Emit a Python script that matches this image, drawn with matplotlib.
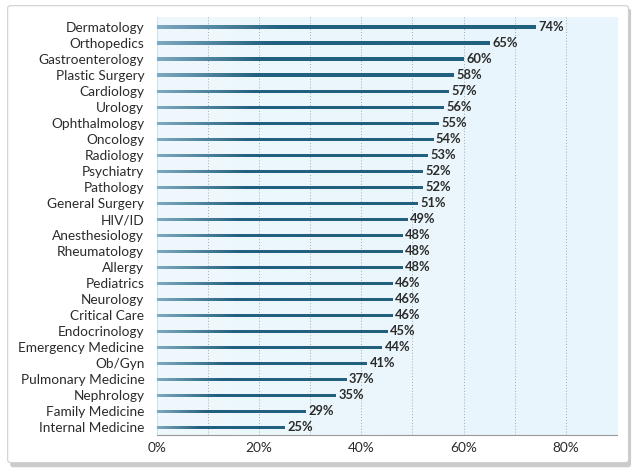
import numpy as np
import matplotlib
matplotlib.use('Agg')
import matplotlib.pyplot as plt
from matplotlib.patches import FancyBboxPatch

specialties = [
    'Dermatology', 'Orthopedics', 'Gastroenterology', 'Plastic Surgery', 'Cardiology',
    'Urology', 'Ophthalmology', 'Oncology', 'Radiology', 'Psychiatry', 'Pathology',
    'General Surgery', 'HIV/ID', 'Anesthesiology', 'Rheumatology', 'Allergy',
    'Pediatrics', 'Neurology', 'Critical Care', 'Endocrinology', 'Emergency Medicine',
    'Ob/Gyn', 'Pulmonary Medicine', 'Nephrology', 'Family Medicine', 'Internal Medicine',
]
percent = [74, 65, 60, 58, 57, 56, 55, 54, 53, 52, 52, 51, 49, 48, 48, 48,
           46, 46, 46, 45, 44, 41, 37, 35, 29, 25]
tick_values = [0, 20, 40, 60, 80]
tick_labels = ['0%', '20%', '40%', '60%', '80%']
grid_values = [10, 20, 30, 40, 50, 60, 70, 80]

BAR_COLOR = '#22607f'
TEXT_COLOR = '#2b2b2b'

plt.rcParams['font.family'] = ['Lato', 'DejaVu Sans']

fig = plt.figure(figsize=(6.4, 4.72), dpi=100)
fig.patch.set_facecolor('white')

# card with soft shadow, kept behind the axes
shadow = FancyBboxPatch((0.016, 0.010), 0.970, 0.972, boxstyle='round,pad=0,rounding_size=0.005',
                        transform=fig.transFigure, facecolor='#b5b5b5', edgecolor='none',
                        alpha=0.7, zorder=-2)
card = FancyBboxPatch((0.012, 0.020), 0.970, 0.968, boxstyle='round,pad=0,rounding_size=0.005',
                      transform=fig.transFigure, facecolor='white', edgecolor='#d0d0d0',
                      linewidth=0.8, zorder=-1)
fig.patches.extend([shadow, card])

ax = fig.add_axes([0.245, 0.078, 0.719, 0.886])
ax.set_facecolor('none')
ax.set_zorder(1)

# light blue background gradient
bg = np.linspace(0, 1, 256).reshape(1, -1)
ax.imshow(bg, extent=[0, 90, 25.5, -0.625], aspect='auto', zorder=0,
          cmap=matplotlib.colors.LinearSegmentedColormap.from_list('bg', ['#eef8fd', '#e8f5fc']))

y = np.arange(len(specialties))
bars = ax.barh(y, percent, height=0.19, color=BAR_COLOR, zorder=3)

# fade the bars slightly at their left end
fade = matplotlib.colors.LinearSegmentedColormap.from_list('fade', ['#7fa9c0', BAR_COLOR, BAR_COLOR, BAR_COLOR])
for bar in bars:
    x0, y0 = bar.get_x(), bar.get_y()
    w, h = bar.get_width(), bar.get_height()
    im = ax.imshow(np.linspace(0, 1, 256).reshape(1, -1), extent=[x0, x0 + w, y0 + h, y0],
                   aspect='auto', cmap=fade, zorder=4)
    im.set_clip_path(bar)

for yi, v in zip(y, percent):
    ax.text(v + 0.6, yi, f'{v}%', va='center', ha='left', fontsize=9.3,
            color=TEXT_COLOR, fontweight='bold', zorder=5)

for g in grid_values:
    ax.axvline(g, color='#a8a8a8', linestyle=(0, (1, 2)), linewidth=0.7, zorder=1)

ax.set_xlim(0, 90)
ax.set_ylim(25.5, -0.625)
ax.set_yticks(y)
ax.set_yticklabels(specialties, fontsize=9.8, color=TEXT_COLOR)
ax.set_xticks(tick_values)
ax.set_xticklabels(tick_labels, fontsize=9.8, color=TEXT_COLOR)
ax.tick_params(length=0, pad=5)
ax.tick_params(axis='y', pad=9)

for side in ['top', 'right']:
    ax.spines[side].set_visible(False)
ax.spines['left'].set_color('#cfe3ee')
ax.spines['bottom'].set_color('#9a9a9a')
ax.spines['bottom'].set_linewidth(0.8)

fig.savefig('out.png', dpi=100)
